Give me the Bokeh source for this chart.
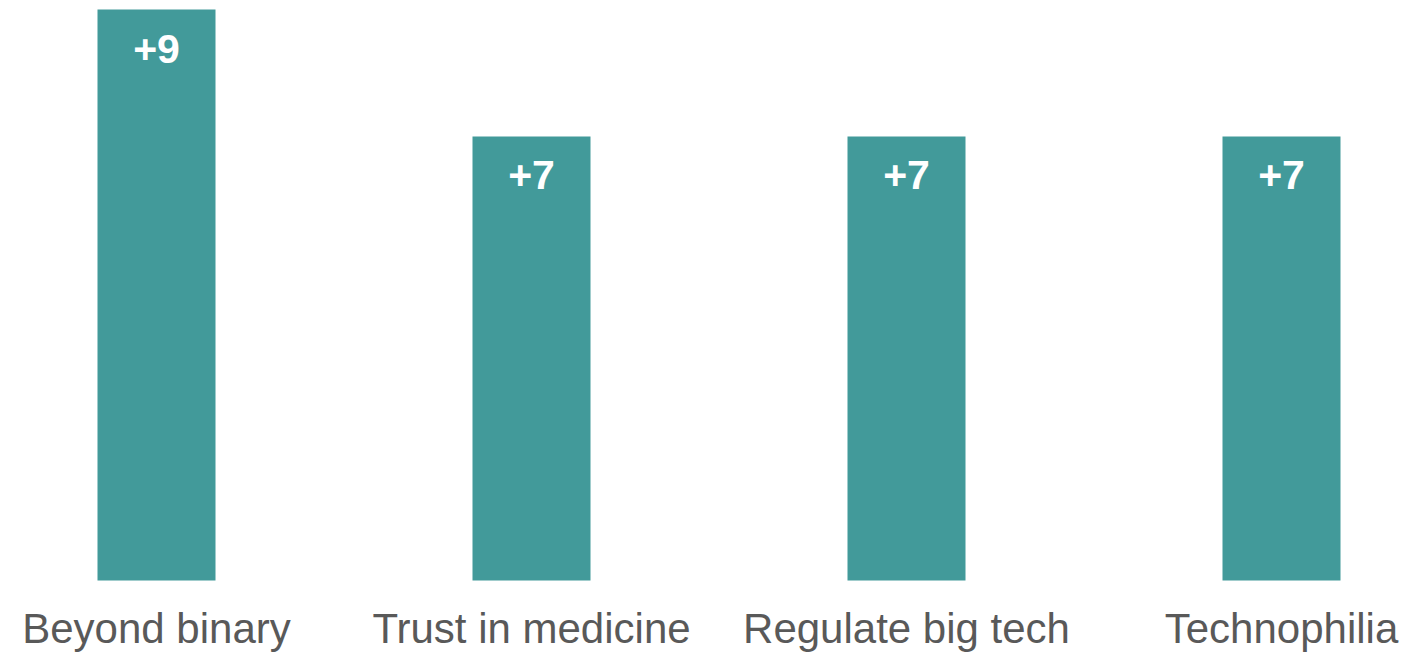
from bokeh.plotting import figure
from bokeh.models import Range1d, ColumnDataSource
from bokeh.core.properties import value
from bokeh.embed import file_html
from bokeh.resources import INLINE

categories = ["Beyond binary", "Trust in medicine", "Regulate big tech", "Technophilia"]
values = [9, 7, 7, 7]
value_labels = ["+9", "+7", "+7", "+7"]

xs = list(range(len(categories)))
src = ColumnDataSource(dict(x=xs, top=values, cat=categories, lab=value_labels, zero=[0] * len(xs)))

p = figure(width=1407, height=653, output_backend="svg", toolbar_location=None,
           x_range=Range1d(-0.416, 3.336), y_range=Range1d(-1.151, 9.142),
           min_border=0, min_border_left=0, min_border_right=0, min_border_top=0, min_border_bottom=0)
p.axis.visible = False
p.grid.visible = False
p.outline_line_color = None
p.background_fill_color = "white"
p.border_fill_color = "white"

p.vbar(x="x", top="top", bottom=0, width=0.3147, source=src, fill_color="#429A9A", line_color=None)

p.text(x="x", y="top", text="lab", source=src, text_align="center", text_baseline="alphabetic",
       y_offset=39, text_color="white", text_font=value("Liberation Sans"),
       text_font_style="bold", text_font_size="41px")

p.text(x="x", y="zero", text="cat", source=src, text_align="center", text_baseline="alphabetic",
       y_offset=48, text_color="#595959", text_font=value("Liberation Sans"),
       text_font_size="42px")

open("out.html", "w").write(file_html(p, INLINE))
